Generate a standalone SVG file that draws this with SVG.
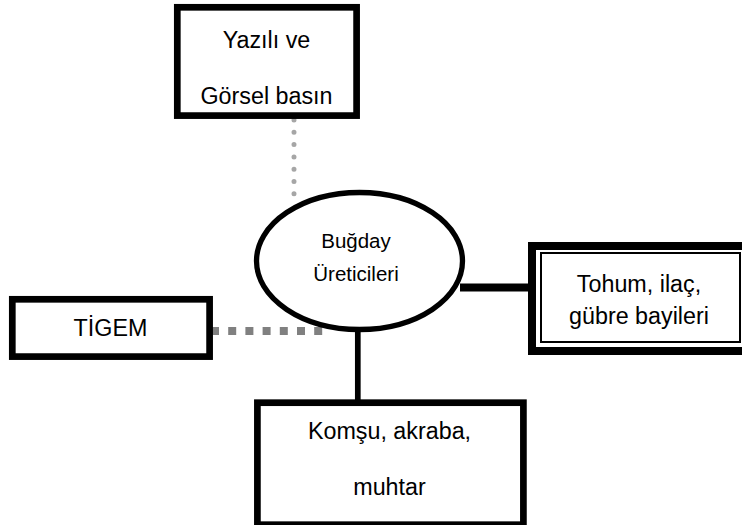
<svg xmlns="http://www.w3.org/2000/svg" width="742" height="525" viewBox="0 0 742 525">
<style>
.box{fill:#fff;stroke:#000;stroke-width:6.7}
.t{font-family:"Liberation Sans",Arial,sans-serif;font-size:23.3px;fill:#000;text-anchor:middle}
.ts{font-family:"Liberation Sans",Arial,sans-serif;font-size:20.5px;fill:#000;text-anchor:middle}
</style>
<rect width="742" height="525" fill="#fff"/>
<g id="connectors">
<line x1="294" y1="120" x2="294" y2="195" stroke="#a6a6a6" stroke-width="5" stroke-linecap="round" stroke-dasharray="0 12.3"/>
<line x1="211" y1="331" x2="330" y2="331" stroke="#808080" stroke-width="8" stroke-dasharray="8 9.2"/>
<line x1="460" y1="287.5" x2="530" y2="287.5" stroke="#000" stroke-width="8"/>
<line x1="357.8" y1="325" x2="357.8" y2="401" stroke="#000" stroke-width="5.7"/>
</g>
<g id="node-basin">
<rect class="box" x="177.3" y="7.3" width="179.3" height="108.3"/>
<text class="t" x="266.5" y="47.5">Yazılı ve</text>
<text class="t" x="266.5" y="104">Görsel basın</text>
</g>
<g id="node-ureticiler">
<ellipse cx="359.5" cy="261" rx="103" ry="68.5" fill="#fff" stroke="#000" stroke-width="5.3"/>
<text class="ts" x="356" y="248.3">Buğday</text>
<text class="ts" x="356" y="280.7">Üreticileri</text>
</g>
<g id="node-bayiler">
<rect x="532" y="246" width="230" height="105" fill="#fff" stroke="#000" stroke-width="8"/>
<rect x="541" y="253" width="199" height="89" fill="#fff" stroke="#000" stroke-width="2"/>
<text class="t" x="639" y="291.7">Tohum, ilaç,</text>
<text class="t" x="639" y="324">gübre bayileri</text>
</g>
<g id="node-tigem">
<rect class="box" x="12.3" y="299.3" width="197.3" height="57.3"/>
<text class="t" x="110.5" y="335.7">TİGEM</text>
</g>
<g id="node-komsu">
<rect class="box" x="257.4" y="402.7" width="266" height="122"/>
<text class="t" x="389.5" y="439.3">Komşu, akraba,</text>
<text class="t" x="389.5" y="495">muhtar</text>
</g>
</svg>
